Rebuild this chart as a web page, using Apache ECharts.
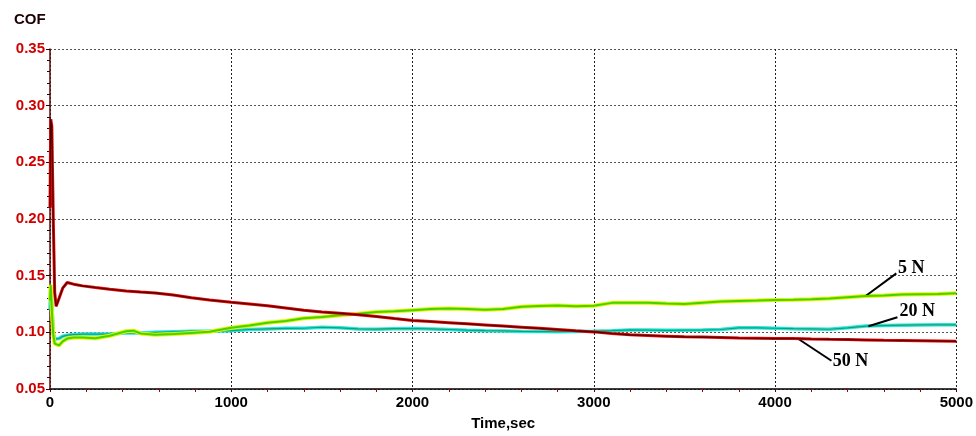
<!DOCTYPE html>
<html>
<head>
<meta charset="utf-8">
<script src="https://cdn.jsdelivr.net/npm/echarts@6/dist/echarts.min.js"></script>
<style>
html,body{margin:0;padding:0;background:#fff;}
#chart{width:976px;height:436px;}
</style>
</head>
<body>
<div id="chart"></div>
<script>
// ---- data ----
var timeSec = [0,4,10,18,26,34,50,70,95,130,180,250,330,420,460,500,580,680,780,880,
  1000,1100,1200,1300,1400,1500,1600,1700,1800,1900,2000,2100,2200,2300,2400,2500,2600,2700,2800,2900,
  3000,3100,3200,3300,3400,3500,3600,3700,3800,3900,4000,4100,4200,4300,4400,4500,4600,4700,4800,4900,5000];

var cof5N = [0.128,0.142,0.120,0.098,0.090,0.0885,0.0885,0.092,0.0945,0.0955,0.0955,0.0948,0.097,0.1010,0.1015,0.0990,0.0978,0.0985,0.0995,0.1005,
  0.1040,0.1060,0.1085,0.1100,0.1125,0.1135,0.1150,0.1165,0.1180,0.1185,0.1195,0.1205,0.1210,0.1205,0.1200,0.1205,0.1225,0.1232,0.1237,0.1230,
  0.1235,0.1260,0.1262,0.1262,0.1255,0.1250,0.1262,0.1272,0.1277,0.1280,0.1285,0.1288,0.1292,0.1298,0.1310,0.1320,0.1325,0.1333,0.1336,0.1338,0.1344];

var cof20N = [0.120,0.140,0.125,0.100,0.094,0.093,0.0945,0.0965,0.0975,0.0980,0.0985,0.0985,0.0985,0.0995,0.0995,0.0995,0.1000,0.1005,0.1010,0.1010,
  0.1015,0.1025,0.1030,0.1035,0.1036,0.1045,0.1040,0.1030,0.1028,0.1032,0.1034,0.1030,0.1025,0.1019,0.1015,0.1012,0.1008,0.1007,0.1006,0.1008,
  0.1010,0.1015,0.1021,0.1020,0.1018,0.1019,0.1020,0.1025,0.1040,0.1040,0.1036,0.1032,0.1030,0.1027,0.1040,0.1055,0.1060,0.1063,0.1065,0.1066,0.1066];

var cof50N = [0.210,0.288,0.282,0.200,0.135,0.123,0.130,0.139,0.144,0.1425,0.141,0.1395,0.138,0.1365,0.1360,0.1355,0.1348,0.1330,0.1305,0.1285,
  0.1265,0.1250,0.1235,0.1215,0.1195,0.1180,0.1168,0.1155,0.1140,0.1122,0.1105,0.1095,0.1085,0.1075,0.1065,0.1055,0.1045,0.1035,0.1025,0.1013,
  0.1004,0.0990,0.0978,0.0972,0.0966,0.0960,0.0958,0.0955,0.0950,0.0948,0.0946,0.0945,0.0941,0.0938,0.0936,0.0933,0.0930,0.0928,0.0926,0.0924,0.0921];

var xTicks = [0,1000,2000,3000,4000,5000];
var yTicks = [0.05,0.10,0.15,0.20,0.25,0.30,0.35];

// annotation anchors (data coordinates): leader start, leader end, text centre
var note5N  = {text:'5 N',  from:[4498,0.1318], to:[4669,0.1520], at:[4752,0.1564]};
var note20N = {text:'20 N', from:[4515,0.1054], to:[4675,0.1133], at:[4785,0.1182]};
var note50N = {text:'50 N', from:[4123,0.0948], to:[4311,0.0749], at:[4416,0.0742]};

function pairs(xs, ys){ return xs.map(function(x,i){ return [x, ys[i]]; }); }

function annot(n){
  return {
    markLine:{silent:true,symbol:['none','none'],animation:false,
      lineStyle:{color:'#000',width:2,type:'solid'},label:{show:false},
      data:[[{coord:n.from},{coord:n.to}]]},
    markPoint:{silent:true,animation:false,symbol:'circle',symbolSize:1,
      itemStyle:{color:'rgba(0,0,0,0)'},
      label:{show:true,position:'inside',formatter:n.text,color:'#000',
        fontFamily:'Liberation Serif',fontWeight:'bold',fontSize:18},
      data:[{coord:n.at}]}
  };
}

function lineSeries(name, ys, color, width, z, extra){
  var s = {name:name,type:'line',data:pairs(timeSec, ys),showSymbol:false,symbol:'none',
    smooth:false,animation:false,z:z,lineStyle:{color:color,width:width},silent:true};
  if(extra){ for(var k in extra){ s[k]=extra[k]; } }
  return s;
}

var a5 = annot(note5N), a20 = annot(note20N), a50 = annot(note50N);

var chart = echarts.init(document.getElementById('chart'));
chart.setOption({
  backgroundColor:'#fff',
  animation:false,
  title:{text:'COF',left:9,top:7,textStyle:{fontFamily:'Liberation Sans',fontWeight:'bold',fontSize:15,color:'#1a0000'}},
  grid:{left:50,right:19,top:49,bottom:46,containLabel:false},
  xAxis:{type:'value',min:xTicks[0],max:xTicks[xTicks.length-1],interval:1000,
    name:'Time,sec',nameLocation:'middle',nameGap:27,
    nameTextStyle:{fontFamily:'Liberation Sans',fontWeight:'bold',fontSize:15,color:'#000'},
    axisLine:{show:true,onZero:false,lineStyle:{color:'#000',width:1.5}},
    axisTick:{show:true,length:3,lineStyle:{color:'#500'}},
    minorTick:{show:true,splitNumber:5,length:3,lineStyle:{color:'#a00'}},
    axisLabel:{margin:6,fontFamily:'Liberation Sans',fontWeight:'bold',fontSize:15,color:'#000',
      formatter:function(v){return String(v);}},
    splitLine:{show:true,lineStyle:{color:'#222',type:[2,2],width:1}}
  },
  yAxis:{type:'value',min:yTicks[0],max:yTicks[yTicks.length-1],interval:0.05,
    axisLine:{show:true,onZero:false,lineStyle:{color:'#5a0a0a',width:1.5}},
    axisTick:{show:true,length:4,lineStyle:{color:'#300'}},
    minorTick:{show:true,splitNumber:5,length:3,lineStyle:{color:'#300'}},
    axisLabel:{margin:5,fontFamily:'Liberation Sans',fontWeight:'bold',fontSize:15,color:'#d00000',
      formatter:function(v){return v.toFixed(2);}},
    splitLine:{show:true,lineStyle:{color:'#555',type:[2,2],width:1}}
  },
  series:[
    lineSeries('20 N halo', cof20N, '#22e6e0', 3.5, 2),
    lineSeries('20 N', cof20N, '#1a9e6a', 1.2, 3, a20),
    lineSeries('5 N halo', cof5N, '#e8f200', 4, 4),
    lineSeries('5 N', cof5N, '#3fd400', 2, 5, a5),
    lineSeries('50 N halo', cof50N, '#e00000', 3, 6),
    lineSeries('50 N', cof50N, '#3a0000', 1.1, 7, a50)
  ]
});
</script>
</body>
</html>
